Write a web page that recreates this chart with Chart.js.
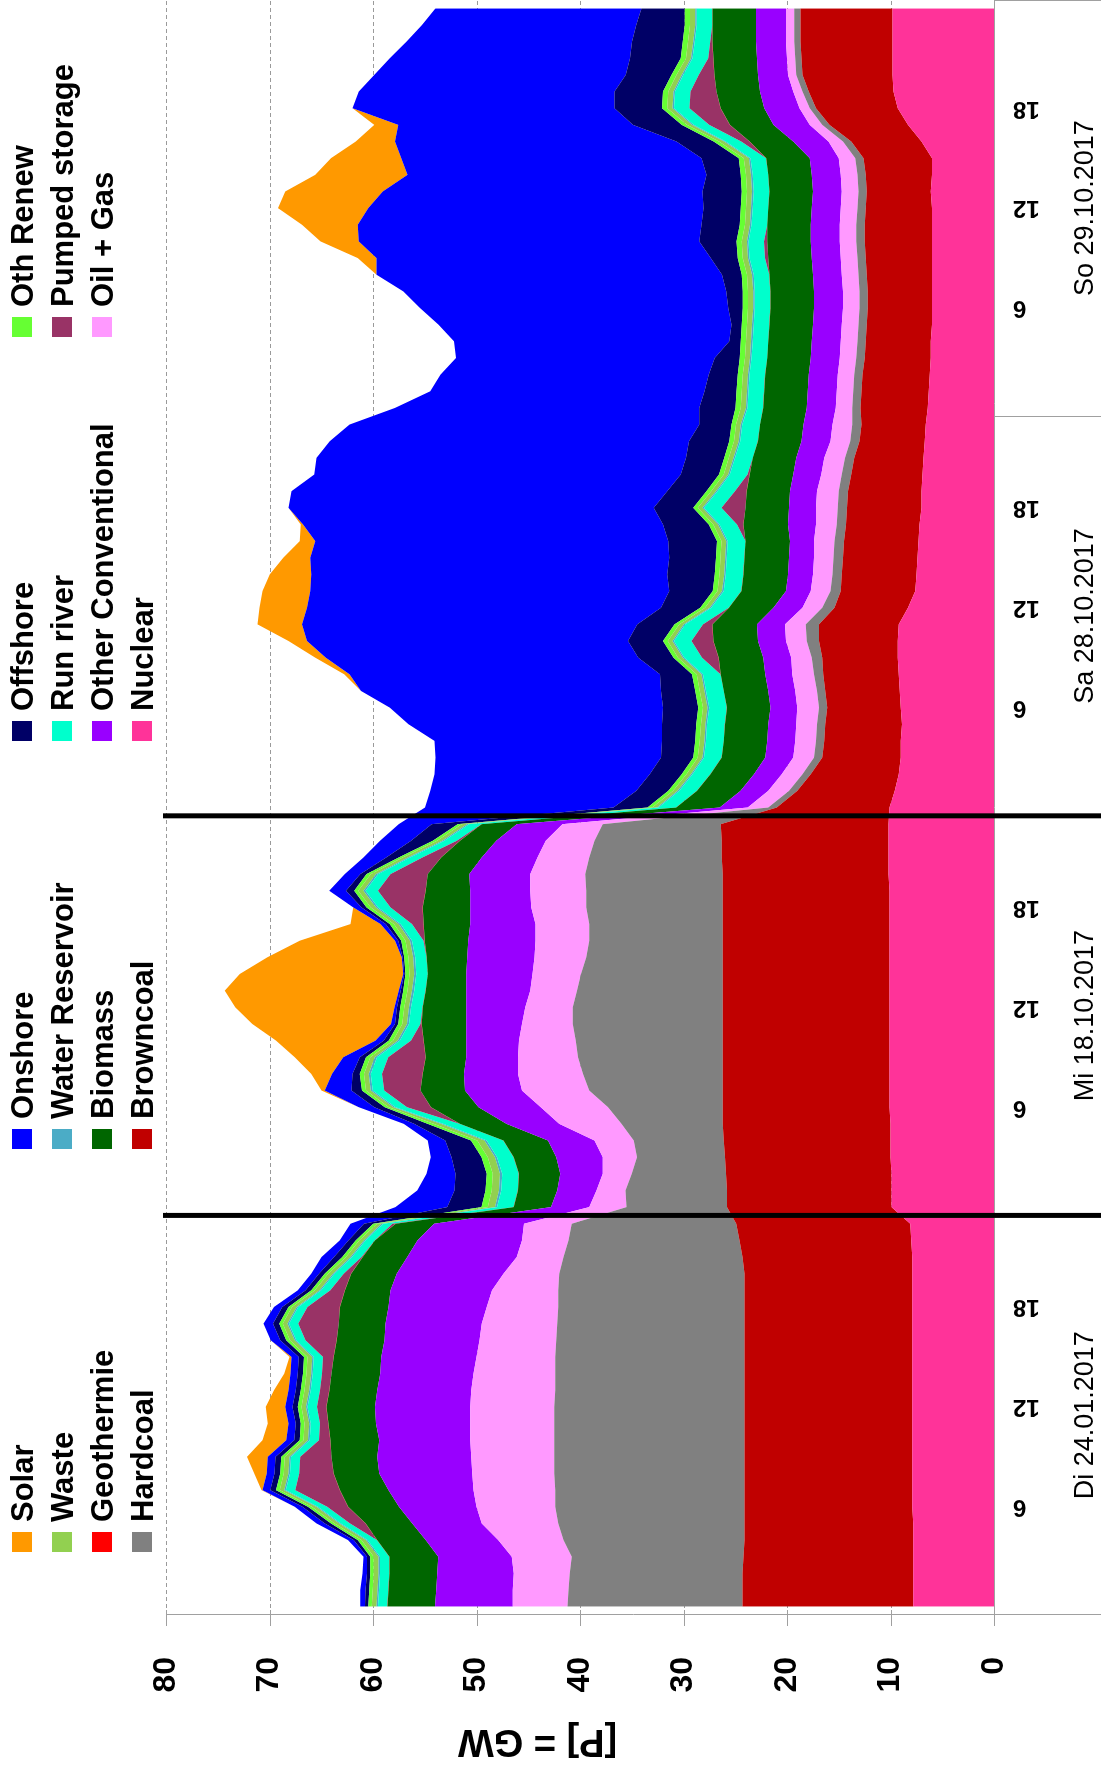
<!DOCTYPE html>
<html><head><meta charset="utf-8">
<script src="https://cdn.jsdelivr.net/npm/chart.js@4.4.1/dist/chart.umd.min.js"></script>
<style>
html,body{margin:0;padding:0;background:#fff;overflow:hidden;width:1101px;height:1776px;}
#rot{position:absolute;left:0;top:0;width:1776px;height:1101px;transform-origin:0 0;transform:translateY(1776px) rotate(-90deg);}
canvas{display:block;}
</style></head><body>
<div id="rot"><canvas id="c" width="1776" height="1101"></canvas></div>
<script>
// ---- categories ----
const days = ['Di 24.01.2017', 'Mi 18.10.2017', 'Sa 28.10.2017', 'So 29.10.2017'];
const dayHours = [
  ['0','1','2','3','4','5','6','7','8','9','10','11','12','13','14','15','16','17','18','19','20','21','22','23'],
  ['0','1','2','3','4','5','6','7','8','9','10','11','12','13','14','15','16','17','18','19','20','21','22','23'],
  ['0','1','2','3','4','5','6','7','8','9','10','11','12','13','14','15','16','17','18','19','20','21','22','23'],
  ['0','1','2','2','3','4','5','6','7','8','9','10','11','12','13','14','15','16','17','18','19','20','21','22','23']
];
const hourTickLabels = ['6', '12', '18'];
const hourTickIndex = [6, 12, 18];
const valueTicks = [0, 10, 20, 30, 40, 50, 60, 70, 80];

// ---- series (GW), Di | Mi | Sa | So ----
const nuclear = [7.8,7.8,7.8,7.8,7.8,7.8,7.9,7.9,7.9,7.9,7.9,7.9,7.9,7.9,7.9,7.9,7.9,7.9,7.9,7.9,7.9,7.9,8.0,8.1,
 9.9,9.9,9.9,10.0,10.0,10.0,10.1,10.1,10.1,10.1,10.1,10.1,10.1,10.1,10.1,10.1,10.1,10.1,10.1,10.1,10.2,10.2,10.2,10.2,
 10.1,9.6,9.2,9.0,9.0,8.9,9.0,9.1,9.2,9.3,9.3,9.2,8.3,7.6,7.5,7.4,7.3,7.2,7.0,7.0,6.9,6.8,6.7,6.6,
 6.4,6.3,6.2,6.1,6.1,6.0,6.0,6.0,6.0,6.0,6.0,6.0,6.0,6.1,6.0,6.0,7.0,8.3,9.3,9.7,9.8,9.8,9.8,9.8,9.8];
const browncoal = [16.5,16.5,16.5,16.4,16.3,16.3,16.2,16.2,16.2,16.2,16.2,16.2,16.2,16.2,16.2,16.2,16.2,16.2,16.2,16.2,16.2,16.4,16.6,16.8,
 15.9,15.9,16.0,16.0,16.1,16.2,16.1,16.1,16.1,16.1,16.1,16.1,16.1,16.1,16.1,16.1,16.1,16.1,16.1,16.1,16.0,16.1,16.1,16.2,
 10.9,9.4,8.5,7.6,7.4,7.4,7.1,7.2,7.3,7.3,7.6,7.7,7.1,7.2,7.2,7.2,7.2,7.1,7.2,7.1,6.9,6.7,6.3,6.2,
 6.5,6.5,6.5,6.4,6.3,6.3,6.2,6.2,6.3,6.4,6.5,6.5,6.4,6.2,6.4,6.6,6.8,7.6,7.9,8.2,8.7,8.8,8.9,8.9,8.9];
const hardcoal = [16.9,16.8,16.7,16.6,17.5,18.0,18.3,18.3,18.4,18.4,18.4,18.4,18.4,18.3,18.3,18.3,18.2,18.1,18.0,18.0,17.9,17.3,16.5,15.9,
 9.7,9.8,9.1,8.5,8.7,9.8,11.1,12.9,13.5,14.0,14.2,14.5,14.5,14.1,13.7,13.2,12.9,12.9,13.2,13.2,13.3,12.8,12.3,11.4,
 0.8,0.8,0.8,0.8,0.8,0.8,0.8,0.8,0.9,1.0,1.2,1.3,1.2,1.0,0.9,0.9,0.9,0.9,0.9,0.9,0.9,0.9,0.9,0.9,
 0.8,0.8,0.8,0.8,0.8,0.8,0.8,0.8,0.8,0.8,0.8,0.8,0.8,0.8,0.8,0.8,0.8,0.7,0.6,0.6,0.6,0.6,0.6,0.6,0.6];
const oilGas = [5.3,5.4,5.4,5.8,6.3,7.4,7.6,7.9,7.9,8.0,8.1,8.1,8.1,8.1,7.9,7.6,7.4,7.3,6.9,6.4,5.4,4.5,4.5,4.6,
 3.6,2.8,2.8,3.3,3.8,6.0,6.5,6.5,6.3,5.8,5.5,4.9,4.6,4.5,4.7,5.0,5.2,5.2,5.3,5.4,5.3,5.0,4.7,3.9,
 2.0,2.0,2.0,2.0,2.0,2.0,2.1,2.1,2.1,2.0,2.0,2.0,1.9,1.9,1.9,1.9,2.0,2.0,2.1,2.1,2.0,2.0,1.9,1.9,
 1.6,1.6,1.6,1.6,1.6,1.6,1.6,1.6,1.6,1.6,1.6,1.6,1.6,1.6,1.6,1.6,1.4,1.2,1.0,0.9,0.8,0.8,0.8,0.8,0.8];
const otherConv = [7.5,7.4,7.4,7.1,7.0,6.7,7.5,8.2,9.0,9.1,8.8,9.1,9.2,9.1,9.0,9.2,9.2,9.3,9.5,9.8,10.3,10.6,10.1,8.7,
 3.7,3.8,4.1,4.5,4.5,5.1,6.0,5.5,5.2,5.0,5.1,5.4,5.7,6.2,6.4,6.5,6.5,6.3,5.9,5.8,5.9,5.4,4.8,4.4,
 2.7,2.7,2.7,2.7,2.7,2.7,2.6,2.6,2.6,2.7,2.7,2.7,2.8,2.4,2.4,2.4,2.3,2.7,2.6,2.6,2.7,2.7,2.8,2.8,
 2.8,2.8,2.8,2.8,2.8,2.8,2.8,2.8,2.8,2.8,2.8,2.8,2.8,2.8,2.8,2.8,3.4,3.5,3.4,3.2,2.9,2.9,2.9,2.9,2.9];
const biomass = [4.6,4.6,4.6,4.7,4.7,4.5,4.9,4.7,4.4,4.4,4.7,4.6,4.7,4.6,4.7,4.6,4.6,4.5,4.7,4.4,4.4,4.3,4.1,3.7,
 3.6,3.8,4.0,4.1,4.3,4.5,4.6,4.3,4.0,3.9,4.1,4.3,4.2,3.9,3.7,3.9,4.2,4.5,4.6,4.3,4.0,3.9,3.5,3.4,
 4.2,4.2,4.2,4.2,4.2,4.2,4.2,4.3,4.3,4.3,4.3,4.3,4.3,4.3,4.3,4.3,4.3,4.3,4.2,4.2,4.2,4.2,4.2,4.2,
 4.2,4.2,4.2,4.2,4.2,4.2,4.2,4.2,4.2,4.2,4.2,4.2,4.2,4.2,4.2,4.2,4.2,4.2,4.2,4.2,4.2,4.2,4.2,4.2,4.2];
const geothermie = [0.02,0.02,0.02,0.02,0.02,0.02,0.02,0.02,0.02,0.02,0.02,0.02,0.02,0.02,0.02,0.02,0.02,0.02,0.02,0.02,0.02,0.02,0.02,0.02,
 0.02,0.02,0.02,0.02,0.02,0.02,0.02,0.02,0.02,0.02,0.02,0.02,0.02,0.02,0.02,0.02,0.02,0.02,0.02,0.02,0.02,0.02,0.02,0.02,
 0.02,0.02,0.02,0.02,0.02,0.02,0.02,0.02,0.02,0.02,0.02,0.02,0.02,0.02,0.02,0.02,0.02,0.02,0.02,0.02,0.02,0.02,0.02,0.02,
 0.02,0.02,0.02,0.02,0.02,0.02,0.02,0.02,0.02,0.02,0.02,0.02,0.02,0.02,0.02,0.02,0.02,0.02,0.02,0.02,0.02,0.02,0.02,0.02,0.02];
const pumped = [0,0,0,0,0,1.5,2.0,4.3,3.3,3.0,1.1,0.8,0.9,0.9,0.9,1.0,3.0,3.9,3.1,1.4,0.7,0.1,0,0.3,
 0,0,0,0,0,0,2.3,3.5,3.9,3.6,1.2,0.1,0,0,0,0,0.1,1.1,3.1,4.6,3.6,1.8,0.3,0,
 0,0,0,0,0,0,0,0,0,1.6,2.1,0.9,0,0,0,0,0,0.6,2.3,1.1,0.2,0,0,0,
 0,0,0,0,0,0,0,0,0,0.3,0.3,0,0,0,0,0,0.8,2.0,3.0,2.5,1.5,0.5,0.2,0,0];
const runRiver = [0.9,0.9,0.9,0.9,0.9,0.9,0.9,0.9,0.9,0.9,0.9,0.9,0.9,0.9,0.9,0.9,0.9,0.9,0.9,0.9,0.9,0.9,0.9,0.9,
 1.6,1.6,1.6,1.6,1.6,1.6,1.1,1.1,1.1,1.1,1.1,1.1,1.1,1.1,1.1,1.1,1.1,1.1,1.2,1.2,1.2,1.2,1.2,1.2,
 1.7,1.7,1.7,1.7,1.7,1.7,1.7,1.7,1.7,1.7,1.7,1.7,1.7,1.7,1.7,1.7,1.7,1.7,1.7,1.7,1.7,1.7,1.7,1.7,
 1.5,1.5,1.5,1.5,1.5,1.5,1.5,1.5,1.5,1.5,1.5,1.5,1.5,1.5,1.5,1.5,1.5,1.5,1.5,1.5,1.5,1.5,1.5,1.5,1.5];
const waterReservoir = [0.15,0.15,0.15,0.15,0.15,0.15,0.15,0.15,0.15,0.15,0.15,0.15,0.15,0.15,0.15,0.15,0.15,0.15,0.15,0.15,0.15,0.15,0.15,0.15,
 0.2,0.2,0.2,0.2,0.2,0.2,0.2,0.2,0.2,0.2,0.2,0.2,0.2,0.2,0.2,0.2,0.2,0.2,0.2,0.2,0.2,0.2,0.2,0.2,
 0.15,0.15,0.15,0.15,0.15,0.15,0.15,0.15,0.15,0.15,0.15,0.15,0.15,0.15,0.15,0.15,0.15,0.15,0.15,0.15,0.15,0.15,0.15,0.15,
 0.15,0.15,0.15,0.15,0.15,0.15,0.15,0.15,0.15,0.15,0.15,0.15,0.15,0.15,0.15,0.15,0.15,0.15,0.15,0.15,0.15,0.15,0.15,0.15,0.15];
const waste = [0.45,0.45,0.45,0.45,0.45,0.45,0.45,0.45,0.45,0.45,0.45,0.45,0.45,0.45,0.45,0.45,0.45,0.45,0.45,0.45,0.45,0.45,0.45,0.45,
 0.7,0.7,0.7,0.7,0.7,0.7,0.45,0.45,0.45,0.45,0.45,0.45,0.45,0.45,0.45,0.45,0.45,0.45,0.5,0.5,0.5,0.5,0.5,0.5,
 0.45,0.45,0.45,0.45,0.45,0.45,0.45,0.45,0.45,0.45,0.45,0.45,0.45,0.45,0.45,0.45,0.45,0.45,0.45,0.45,0.45,0.45,0.45,0.45,
 0.5,0.5,0.5,0.5,0.5,0.5,0.5,0.5,0.5,0.5,0.5,0.5,0.5,0.5,0.5,0.5,0.5,0.5,0.5,0.5,0.5,0.5,0.5,0.5,0.5];
const othRenew = [0.35,0.35,0.35,0.35,0.35,0.35,0.35,0.35,0.35,0.35,0.35,0.35,0.35,0.35,0.35,0.35,0.35,0.35,0.35,0.35,0.35,0.35,0.35,0.35,
 0.6,0.6,0.6,0.6,0.6,0.6,0.4,0.4,0.4,0.4,0.4,0.4,0.4,0.4,0.4,0.4,0.4,0.4,0.4,0.4,0.4,0.4,0.4,0.4,
 0.45,0.45,0.45,0.45,0.45,0.45,0.45,0.45,0.45,0.45,0.45,0.45,0.45,0.45,0.45,0.45,0.45,0.45,0.45,0.45,0.45,0.45,0.45,0.45,
 0.5,0.5,0.5,0.5,0.5,0.5,0.5,0.5,0.5,0.5,0.5,0.5,0.5,0.5,0.5,0.5,0.5,0.5,0.5,0.5,0.5,0.5,0.5,0.5,0.5];
const offshore = [0.3,0.35,0.3,0.3,0.4,0.6,0.55,0.55,0.55,0.55,0.55,0.5,0.5,0.5,0.5,0.5,0.6,0.6,0.6,0.55,0.55,0.8,0.7,0.9,
 3.3,3.0,3.0,2.9,2.5,1.3,1.0,1.0,0.7,0.6,0.5,0.3,0.3,0.25,0.1,0.15,0.3,0.4,0.5,0.8,0.6,1.2,2.1,2.5,
 3.3,3.1,3.1,3.1,3.2,3.3,3.4,3.3,3.1,3.4,3.4,3.6,3.8,4.2,4.6,4.5,4.7,4.4,3.8,3.8,3.7,3.7,3.9,3.1,
 3.5,3.1,2.8,2.4,1.1,1.0,1.4,1.6,1.9,2.6,3.6,3.7,3.6,3.8,3.3,3.6,3.6,4.7,4.6,4.7,4.4,4.9,4.9,4.7,4.2];
const onshore = [0.45,0.5,0.45,0.35,0.55,0.8,0.75,0.75,0.75,0.75,0.75,0.7,0.7,0.7,0.7,0.7,0.9,0.9,0.8,0.75,0.75,1.2,0.85,1.3,
 5.0,3.6,2.8,2.0,1.7,1.0,1.5,2.6,2.0,1.6,0.8,0.4,0.25,0.2,0.1,0.1,0.3,0.5,0.8,1.6,1.5,2.2,3.0,3.2,
 18.2,19.9,20.8,21.8,22.0,24.5,26.4,29.0,30.0,30.2,31.0,32.4,34.2,34.7,34.4,34.7,34.1,34.8,35.3,36.3,35.4,35.7,34.7,33.8,
 29.4,26.5,25.9,25.0,26.6,28.3,29.8,31.2,33.4,32.3,32.9,33.2,32.4,30.9,28.9,29.0,27.2,22.7,25.3,24.7,24.3,23.2,21.8,20.7,19.9];
const solar = [0,0,0,0,0,0,0,0.1,1.2,2.0,2.3,2.0,1.9,1.4,0.6,0.2,0,0,0,0,0,0,0,0,
 0,0,0,0,0,0,0,0.3,2.0,4.7,9.6,13.4,15.4,16.8,15.8,13.0,9.2,2.9,0,0,0,0,0,0,
 0,0,0,0,0,0,0,0,0.5,1.0,1.8,4.3,4.6,4.6,4.0,2.6,1.5,0.2,0,0,0,0,0,0,
 0,0,0,0,0,0,0,0,0,1.8,3.7,5.4,8.7,9.4,8.9,6.8,3.8,2.3,0,0,0,0,0,0,0];

// stacking order bottom -> top
const seriesNames = ['Nuclear','Browncoal','Hardcoal','Oil + Gas','Other Conventional','Biomass','Geothermie','Pumped storage','Run river','Water Reservoir','Waste','Oth Renew','Offshore','Onshore','Solar'];
const seriesData = [nuclear, browncoal, hardcoal, oilGas, otherConv, biomass, geothermie, pumped, runRiver, waterReservoir, waste, othRenew, offshore, onshore, solar];
const seriesColors = ['#FF3399','#C00000','#808080','#FF99FF','#9900FF','#006600','#FF0000','#993366','#00FFCC','#4BACC6','#92D050','#66FF33','#000066','#0000FF','#FF9900'];

// ---- build categories ----
const labels = [];
const dayStart = [];
dayHours.forEach(h => { dayStart.push(labels.length); h.forEach(x => labels.push(x)); });
const FONT = '"Liberation Sans", Arial, sans-serif';

const datasets = seriesNames.map((n, k) => ({
  label: n, data: seriesData[k], backgroundColor: seriesColors[k], borderColor: seriesColors[k],
  borderWidth: 0, pointRadius: 0, pointHoverRadius: 0, tension: 0, fill: k === 0 ? 'origin' : '-1'
}));

const framePlugin = {
  id: 'frame',
  beforeDraw(chart) {
    const ctx = chart.ctx; ctx.save(); ctx.fillStyle = '#fff'; ctx.fillRect(0, 0, chart.width, chart.height); ctx.restore();
  },
  beforeDatasetsDraw(chart) {
    const {ctx, chartArea: a, scales: {y}} = chart;
    ctx.save();
    ctx.strokeStyle = '#9a9a9a'; ctx.lineWidth = 1; ctx.setLineDash([4, 3]);
    valueTicks.forEach(v => {
      if (v === 0) return;
      const py = Math.round(y.getPixelForValue(v)) + 0.5;
      ctx.beginPath(); ctx.moveTo(a.left, py); ctx.lineTo(a.right, py); ctx.stroke();
    });
    ctx.restore();
  },
  afterDatasetsDraw(chart) {
    const {ctx, chartArea: a, scales: {x, y}} = chart;
    const H = chart.height;
    const step = x.getPixelForValue(1) - x.getPixelForValue(0);
    const edge = i => x.getPixelForValue(i) - step / 2;
    ctx.save();
    ctx.strokeStyle = '#a0a0a0'; ctx.lineWidth = 1;
    ctx.beginPath(); ctx.moveTo(a.left + 0.5, a.top); ctx.lineTo(a.left + 0.5, H); ctx.stroke();
    const y0 = Math.round(y.getPixelForValue(0)) + 0.5;
    ctx.beginPath(); ctx.moveTo(a.left, y0); ctx.lineTo(a.right, y0); ctx.stroke();
    valueTicks.forEach(v => {
      const py = Math.round(y.getPixelForValue(v)) + 0.5;
      ctx.beginPath(); ctx.moveTo(a.left - 11, py); ctx.lineTo(a.left + 5, py); ctx.stroke();
    });
    [dayStart[3], labels.length].forEach(i => {
      const px = Math.min(Math.round(edge(i)) - 0.5, chart.width - 0.5);
      ctx.beginPath(); ctx.moveTo(px, a.bottom); ctx.lineTo(px, H); ctx.stroke();
    });
    ctx.strokeStyle = '#000'; ctx.lineWidth = 5;
    [dayStart[1], dayStart[2]].forEach(i => {
      const px = edge(i);
      ctx.beginPath(); ctx.moveTo(px, a.top - 3); ctx.lineTo(px, H); ctx.stroke();
    });
    ctx.restore();
  },
  afterDraw(chart) {
    const {ctx, scales: {x}} = chart;
    ctx.save();
    ctx.fillStyle = '#000'; ctx.font = '27px ' + FONT; ctx.textAlign = 'center'; ctx.textBaseline = 'alphabetic';
    days.forEach((d, k) => {
      const s = dayStart[k], e = s + dayHours[k].length - 1;
      const cx = (x.getPixelForValue(s) + x.getPixelForValue(e)) / 2;
      ctx.fillText(d, cx, 1093);
    });
    ctx.save(); ctx.translate(36, 537.5); ctx.rotate(-Math.PI / 2);
    ctx.font = 'bold 38px ' + FONT; ctx.textAlign = 'center'; ctx.textBaseline = 'middle';
    ctx.fillText('[P] = GW', 0, 0); ctx.restore();
    const colX = [224, 627, 1035, 1439];
    ctx.font = 'bold 31px ' + FONT; ctx.textAlign = 'left'; ctx.textBaseline = 'alphabetic';
    for (let k = 0; k < seriesNames.length; k++) {
      const idx = seriesNames.length - 1 - k;
      const col = k % 4, row = Math.floor(k / 4);
      const mx = colX[col], my = 12 + 40 * row;
      ctx.fillStyle = seriesColors[idx]; ctx.fillRect(mx, my, 20, 20);
      ctx.fillStyle = '#000'; ctx.fillText(seriesNames[idx], mx + 30, my + 21);
    }
    ctx.restore();
  }
};

new Chart(document.getElementById('c'), {
  type: 'line',
  data: { labels: labels, datasets: datasets },
  options: {
    responsive: false, animation: false, devicePixelRatio: 1, events: [],
    layout: { padding: { top: 166, left: 0, right: 0, bottom: 0 } },
    plugins: { legend: { display: false }, tooltip: { enabled: false }, title: { display: false } },
    scales: {
      x: {
        type: 'category', offset: true,
        grid: { display: false, drawTicks: false }, border: { display: false },
        ticks: {
          autoSkip: false, minRotation: 90, maxRotation: 90, padding: 19, color: '#000',
          font: { family: FONT, size: 24, weight: 'bold' },
          callback: function (value, index) {
            let k = 0; while (k < dayStart.length - 1 && index >= dayStart[k + 1]) k++;
            const pos = hourTickIndex.indexOf(index - dayStart[k]);
            return pos >= 0 ? hourTickLabels[pos] : '';
          }
        },
        afterFit(scale) { scale.height = 107; scale.paddingLeft = 0; scale.paddingRight = 0; }
      },
      y: {
        stacked: true, min: 0, max: 80,
        grid: { display: false, drawTicks: false }, border: { display: false },
        ticks: { stepSize: 10, padding: 42, color: '#000', font: { family: FONT, size: 32, weight: 'bold' } },
        afterFit(scale) { scale.width = 161; scale.paddingTop = 0; scale.paddingBottom = 0; }
      }
    }
  },
  plugins: [framePlugin]
});
</script></body></html>
